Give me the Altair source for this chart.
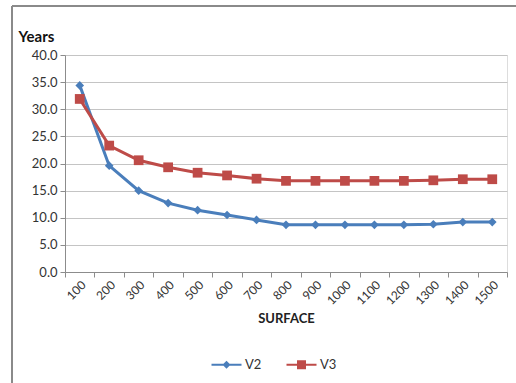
import altair as alt
import pandas as pd

# Service life (years) by surface
surface = ["100", "200", "300", "400", "500", "600", "700", "800",
           "900", "1000", "1100", "1200", "1300", "1400", "1500"]
v2 = [34.4, 19.6, 15.0, 12.7, 11.4, 10.5, 9.6, 8.7, 8.7, 8.7, 8.7, 8.7, 8.8, 9.2, 9.2]
v3 = [31.9, 23.3, 20.6, 19.3, 18.3, 17.8, 17.2, 16.8, 16.8, 16.8, 16.8, 16.8, 16.9, 17.1, 17.1]
series = ["V2", "V3"]
colors = ["#4A7EBB", "#BE4B48"]

df = pd.DataFrame({
    "surface": surface * 2,
    "years": v2 + v3,
    "series": ["V2"] * len(v2) + ["V3"] * len(v3),
})

FONT = "Lato"
W, H = 442, 217

x_enc = alt.X(
    "surface:N", sort=surface, scale=alt.Scale(paddingInner=0, paddingOuter=0),
    axis=alt.Axis(
        title="SURFACE", titleFontWeight="bold", titleFontSize=13, titleColor="#222",
        titlePadding=6, labelAngle=-45, labelAlign="right", labelBaseline="top",
        labelPadding=2, labelFontSize=12, labelColor="#333", tickBand="extent",
        tickSize=5, tickColor="#8c8c8c", domainColor="#8c8c8c", grid=False,
    ),
)
y_enc = alt.Y(
    "years:Q", scale=alt.Scale(domain=[0, 40], nice=False),
    axis=alt.Axis(
        values=[0, 5, 10, 15, 20, 25, 30, 35, 40], format=".1f",
        title="Years", titleAngle=0, titleAlign="left", titleBaseline="middle",
        titleX=-47, titleY=-19, titleFontWeight="bold", titleFontSize=15, titleColor="#111",
        labelFontSize=13, labelColor="#333", labelPadding=3,
        tickSize=5, tickColor="#8c8c8c", domainColor="#8c8c8c",
        gridColor="#c4c4c4", gridWidth=1,
    ),
)

base = alt.Chart(df)
layers = []
for name, col, shape, size in [("V2", colors[0], "diamond", 75), ("V3", colors[1], "square", 95)]:
    sub = base.transform_filter(alt.datum.series == name)
    layers.append(sub.mark_line(color=col, strokeWidth=3).encode(x=x_enc, y=y_enc))
    layers.append(sub.mark_point(filled=True, opacity=1, color=col, shape=shape, size=size)
                  .encode(x=x_enc, y=y_enc))

# legend symbols: a short line with the series marker on it
bar = "M -3 -0.18 L 3 -0.18 L 3 0.18 L -3 0.18 Z "
diamond_path = bar + "M 0 -0.8 L 0.8 0 L 0 0.8 L -0.8 0 Z"
square_path = bar + "M -0.9 -0.9 L 0.9 -0.9 L 0.9 0.9 L -0.9 0.9 Z"

legend_layer = base.transform_filter("false").mark_point(filled=True, opacity=1).encode(
    x=x_enc, y=y_enc,
    color=alt.Color("series:N", scale=alt.Scale(domain=series, range=colors),
                    legend=alt.Legend(title=None, orient="none", direction="horizontal",
                                      legendX=155, legendY=303, symbolSize=100,
                                      labelOffset=12, columnPadding=24,
                                      labelFontSize=13, labelColor="#333")),
    shape=alt.Shape("series:N", scale=alt.Scale(domain=series, range=[diamond_path, square_path])),
)

frame_data = pd.DataFrame({"k": [0]})
frame_left = alt.Chart(frame_data).mark_rule(color="#8a8a8a", strokeWidth=2).encode(
    x=alt.value(-53), y=alt.value(-49), y2=alt.value(330))
frame_top = alt.Chart(frame_data).mark_rule(color="#8a8a8a", strokeWidth=2).encode(
    x=alt.value(-53), x2=alt.value(460), y=alt.value(-49))

chart = alt.layer(*layers, legend_layer, frame_left, frame_top).properties(
    width=W, height=H,
    autosize=alt.AutoSizeParams(type="none"),
    padding={"left": 65, "top": 55, "right": 9, "bottom": 111},
    background="white",
).configure_view(stroke=None).configure(font=FONT)

chart.save("out.html", embed_options={"renderer": "svg", "actions": False})
